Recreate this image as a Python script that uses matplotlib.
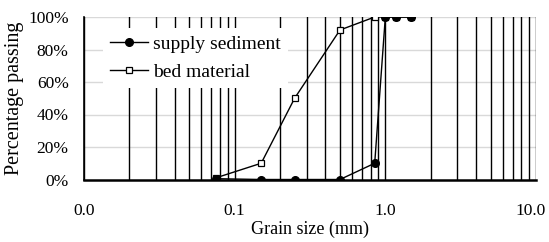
import numpy as np
import matplotlib.pyplot as plt
from matplotlib.ticker import FixedLocator, FuncFormatter
from matplotlib.transforms import ScaledTranslation

plt.rcParams['font.family'] = ['Liberation Serif', 'DejaVu Serif']

# grain sizes (mm) and percentage passing
grain_size = [0.075, 0.15, 0.25, 0.5, 0.85, 1.0, 1.18, 1.47]
supply_sediment = [0.5, 0, 0, 0, 10, 100, 100, 100]
bed_material = [1, 10, 50, 92, 100, 100, 100, 100]

x_ticks = [0.01, 0.1, 1, 10]
y_ticks = [0, 20, 40, 60, 80, 100]

fig = plt.figure(figsize=(5.49, 2.42), dpi=100)
ax = fig.add_axes([84 / 549, 1 - 179.5 / 242, 452 / 549, 162.5 / 242])

ax.set_xscale('log')
ax.set_xlim(0.01, 10)
ax.set_ylim(0, 100)

# light horizontal grid, black vertical lines at every log step
for y in y_ticks[1:]:
    ax.axhline(y, color='#d9d9d9', lw=1, zorder=0)
for decade in [0.01, 0.1, 1]:
    for m in range(1, 10):
        ax.axvline(decade * m, color='black', lw=1, zorder=1)
ax.axvline(10, color='black', lw=1, zorder=1)

ax.plot(grain_size, bed_material, color='black', lw=1, marker='s', ms=5,
        mfc='white', mec='black', mew=0.9, label='bed material', zorder=3)
ax.plot(grain_size, supply_sediment, color='black', lw=1, marker='o', ms=5.5,
        mfc='black', mec='black', label='supply sediment', zorder=4)

for s in ['top', 'right']:
    ax.spines[s].set_visible(False)
ax.spines['bottom'].set_linewidth(1.8)
ax.spines['bottom'].set_zorder(5)
ax.spines['left'].set_linewidth(1.2)

ax.xaxis.set_major_locator(FixedLocator(x_ticks))
ax.xaxis.set_minor_locator(FixedLocator([]))
ax.xaxis.set_major_formatter(FuncFormatter(lambda v, p: f'{v:.1f}'))
ax.set_yticks(y_ticks)
ax.yaxis.set_major_formatter(FuncFormatter(lambda v, p: f'{v:.0f}%'))
ax.tick_params(axis='x', length=0, pad=17, labelsize=12.5)
ax.tick_params(axis='y', length=0, pad=11, labelsize=12.5)

# nudge the last x label left so it stays inside the figure
last = ax.xaxis.get_major_ticks()[-1].label1
last.set_transform(last.get_transform() + ScaledTranslation(-5 / 100, 0, fig.dpi_scale_trans))

ax.set_xlabel('Grain size (mm)', fontsize=13, labelpad=1)
ax.set_ylabel('Percentage passing', fontsize=14.5, labelpad=3)

handles, labels = ax.get_legend_handles_labels()
leg = ax.legend(handles[::-1], labels[::-1], loc='upper left',
                bbox_to_anchor=(0.02, 0.99), fontsize=14, frameon=True,
                fancybox=False, edgecolor='none', facecolor='white',
                framealpha=1, handlelength=2.0, handletextpad=0.25,
                labelspacing=0.55, borderpad=0.35)
leg.set_zorder(10)

fig.savefig('out.png', dpi=100)
